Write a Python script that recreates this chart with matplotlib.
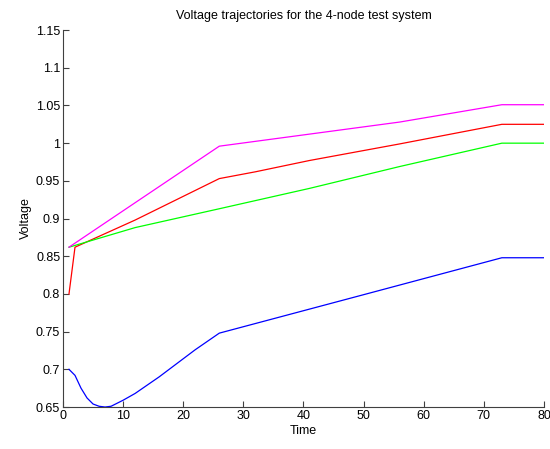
import numpy as np
import matplotlib
matplotlib.use('Agg')
from matplotlib import pyplot as plt

plt.rcParams['font.family'] = ['Liberation Sans', 'DejaVu Sans']

# node voltages
t_blue = [1, 2, 3, 4, 5, 6, 7, 8, 9, 10, 12, 14, 16, 18, 20, 22, 24, 26, 50, 73, 80]
v_blue = [0.700, 0.692, 0.675, 0.662, 0.654, 0.651, 0.650, 0.651, 0.655, 0.659,
          0.668, 0.679, 0.690, 0.702, 0.714, 0.726, 0.737, 0.748, 0.799, 0.848, 0.848]

t_red = [1, 2, 12, 26, 32, 41, 56, 73, 80]
v_red = [0.800, 0.862, 0.898, 0.953, 0.962, 0.977, 0.999, 1.025, 1.025]

t_mag = [1, 12, 26, 41, 56, 73, 80]
v_mag = [0.862, 0.921, 0.996, 1.012, 1.028, 1.051, 1.051]

t_green = [1, 12, 26, 41, 56, 73, 80]
v_green = [0.862, 0.888, 0.913, 0.940, 0.969, 1.000, 1.000]

fig = plt.figure(figsize=(5.5, 4.49), dpi=100)
ax = fig.add_axes([0.1145, 0.0935, 0.8745, 0.8395])

lw = 0.9
ax.plot(t_blue, v_blue, color='blue', lw=lw)
ax.plot(t_red, v_red, color='red', lw=lw)
ax.plot(t_green, v_green, color='lime', lw=lw)
ax.plot(t_mag, v_mag, color='magenta', lw=lw)

ax.set_xlim(0, 80)
ax.set_ylim(0.65, 1.15)
ax.set_xticks(np.arange(0, 81, 10))
yt = np.arange(0.65, 1.151, 0.05)
ax.set_yticks(yt)
ax.set_yticklabels(['%g' % round(v, 2) for v in yt])

for s in ['top', 'right']:
    ax.spines[s].set_visible(False)
for s in ['left', 'bottom']:
    ax.spines[s].set_color('#404040')
    ax.spines[s].set_linewidth(0.8)
ax.tick_params(direction='in', length=4, width=0.8, color='#404040',
               labelsize=9, pad=2)

ax.set_xlabel('Time', fontsize=9, labelpad=2)
ax.set_ylabel('Voltage', fontsize=9, labelpad=3)
ax.set_title('Voltage trajectories for the 4-node test system', fontsize=9, pad=8)

plt.savefig('out.png', dpi=100)
